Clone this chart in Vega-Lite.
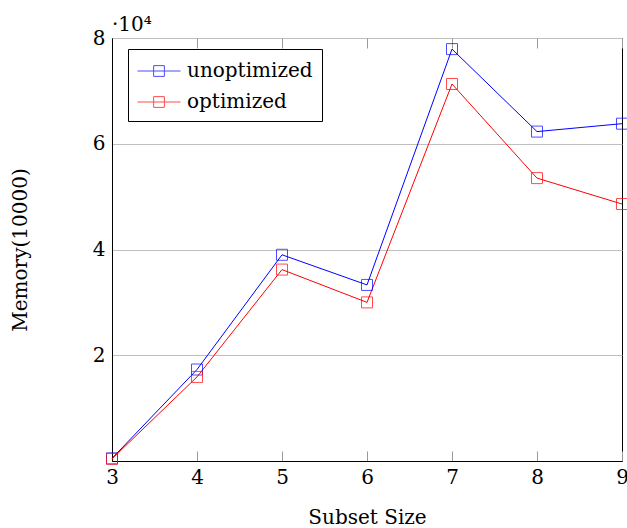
{
  "$schema": "https://vega.github.io/schema/vega-lite/v6.json",
  "width": 510,
  "height": 423,
  "autosize": {"type": "none"},
  "padding": {"left": 112, "top": 38, "right": 5, "bottom": 67},
  "config": {
    "font": "DejaVu Serif",
    "view": {"stroke": "#000", "strokeWidth": 1},
    "axis": {
      "labelFont": "DejaVu Serif", "labelFontSize": 20, "labelColor": "#000",
      "titleFont": "DejaVu Serif", "titleFontSize": 20, "titleFontWeight": "normal", "titleColor": "#000",
      "domainColor": "#000", "domainWidth": 1, "tickColor": "#999", "tickWidth": 1, "gridColor": "#c0c0c0", "gridWidth": 1
    }
  },
  "title": {"text": "·10⁴", "anchor": "start", "frame": "group", "fontSize": 20, "fontWeight": "normal", "font": "DejaVu Serif", "color": "#000", "offset": -7},
  "data": {"values": [
    {"size": 3, "memory": 500, "series": "unoptimized"},
    {"size": 4, "memory": 17300, "series": "unoptimized"},
    {"size": 5, "memory": 39000, "series": "unoptimized"},
    {"size": 6, "memory": 33300, "series": "unoptimized"},
    {"size": 7, "memory": 77900, "series": "unoptimized"},
    {"size": 8, "memory": 62300, "series": "unoptimized"},
    {"size": 9, "memory": 63800, "series": "unoptimized"},
    {"size": 3, "memory": 400, "series": "optimized"},
    {"size": 4, "memory": 15900, "series": "optimized"},
    {"size": 5, "memory": 36200, "series": "optimized"},
    {"size": 6, "memory": 30000, "series": "optimized"},
    {"size": 7, "memory": 71300, "series": "optimized"},
    {"size": 8, "memory": 53500, "series": "optimized"},
    {"size": 9, "memory": 48600, "series": "optimized"}
  ]},
  "layer": [
    {
      "mark": {"type": "line", "strokeWidth": 1},
      "encoding": {
        "x": {"field": "size", "type": "quantitative", "scale": {"domain": [3, 9], "nice": false},
          "axis": {"orient": "bottom", "values": [3, 4, 5, 6, 7, 8, 9], "format": "d", "tickSize": -10, "labelPadding": 16, "labelFlush": false, "grid": false,
            "title": "Subset Size", "titleY": 56, "titleBaseline": "middle"}},
        "y": {"field": "memory", "type": "quantitative", "scale": {"domain": [0, 80000], "nice": false},
          "axis": {"values": [20000, 40000, 60000, 80000], "labelExpr": "datum.value/10000", "ticks": false, "grid": true, "labelPadding": 7, "labelFlush": false,
            "title": "Memory(10000)", "titleX": -92, "titleY": 211.5, "titleBaseline": "middle"}},
        "color": {"field": "series", "type": "nominal",
          "scale": {"domain": ["unoptimized", "optimized"], "range": ["#0000ff", "#ff0000"]},
          "legend": {"orient": "none", "legendX": 16, "legendY": 11, "title": null,
            "symbolType": "M-1,0L2.44,0M0.29,-0.43L1.15,-0.43L1.15,0.43L0.29,0.43Z",
            "symbolSize": 625, "symbolStrokeWidth": 1, "symbolFillColor": "transparent",
            "labelExpr": "datum.value == 'optimized' ? '\\u00a0\\u00a0optimized' : datum.value",
            "labelFont": "DejaVu Serif", "labelFontSize": 20, "labelColor": "#000", "labelOffset": 24,
            "padding": 9, "rowPadding": 8, "strokeColor": "#000", "fillColor": "#fff"}}
      }
    },
    {
      "mark": {"type": "point", "shape": "square", "filled": false, "size": 121, "strokeWidth": 1},
      "encoding": {
        "x": {"field": "size", "type": "quantitative",
          "axis": {"orient": "top", "values": [3, 4, 5, 6, 7, 8, 9], "labels": false, "tickSize": -10, "domain": false, "grid": false, "title": null}},
        "y": {"field": "memory", "type": "quantitative"},
        "color": {"field": "series", "type": "nominal"}
      }
    }
  ],
  "resolve": {"axis": {"x": "independent"}}
}
